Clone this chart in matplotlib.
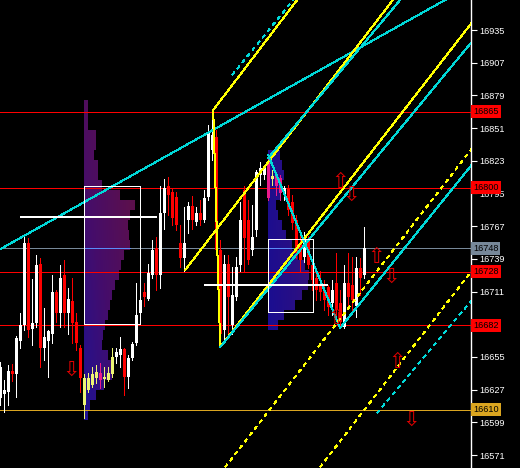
import numpy as np
import matplotlib
matplotlib.use("Agg")
import matplotlib.pyplot as plt

plt.rcParams['font.family'] = ['Liberation Sans', 'DejaVu Sans']

# ---------------- data ----------------
opens = [16620,16623,16625,16643,16640,16669,16682,16753,16679,16684,
         16735,16663,16669,16675,16711,16693,16725,16693,16703,16685,
         16663,16614,16627,16631,16637,16641,16636,16635,16640,16655,
         16657,16662,16638,16654,16667,16693,16711,16705,16725,16748,
         16725,16778,16801,16796,16792,16753,16740,16772,16784,16771,
         16778,16772,16792,16832,16843,16747,16678,16735,16682,16706,
         16734,16798,16772,16747,16764,16811,16811,16822,16807,16811,
         16808,16794,16800,16788,16772,16753,16741,16755,16734,16723,
         16717,16712,16715,16701,16718,16701,16681,16718,16717,16699,
         16731,16725]
highs = [16651,16635,16648,16649,16673,16693,16759,16757,16722,16742,
         16740,16697,16678,16725,16712,16734,16738,16714,16723,16693,
         16665,16640,16641,16646,16648,16650,16646,16646,16663,16663,
         16672,16663,16657,16668,16718,16718,16718,16735,16755,16758,
         16801,16807,16809,16800,16796,16768,16783,16788,16793,16783,
         16789,16798,16854,16866,16849,16755,16742,16742,16732,16741,
         16788,16801,16789,16785,16815,16822,16819,16826,16815,16813,
         16811,16801,16802,16794,16777,16759,16762,16759,16736,16729,
         16729,16721,16717,16721,16744,16712,16734,16744,16741,16741,
         16740,16766]
lows = [16614,16608,16614,16634,16621,16663,16678,16672,16665,16681,
        16646,16652,16638,16667,16685,16681,16681,16675,16667,16661,
        16625,16603,16625,16629,16633,16628,16629,16634,16638,16650,
        16646,16622,16628,16652,16665,16688,16699,16704,16723,16712,
        16714,16765,16777,16768,16764,16732,16729,16761,16765,16768,
        16768,16771,16789,16824,16742,16665,16669,16674,16675,16704,
        16729,16729,16735,16742,16759,16802,16807,16789,16802,16794,
        16789,16789,16777,16765,16740,16729,16736,16731,16712,16704,
        16704,16695,16691,16691,16689,16680,16680,16698,16695,16689,
        16708,16723]
closes = [16646,16627,16643,16640,16671,16682,16753,16678,16684,16734,
          16663,16672,16677,16711,16693,16723,16693,16705,16684,16667,
          16637,16637,16637,16640,16642,16635,16638,16641,16655,16659,
          16662,16638,16654,16666,16691,16704,16706,16727,16747,16725,
          16778,16800,16794,16774,16768,16740,16753,16784,16772,16778,
          16772,16791,16847,16845,16747,16675,16735,16706,16708,16732,
          16772,16757,16738,16758,16813,16817,16817,16791,16810,16801,
          16795,16800,16781,16770,16744,16738,16757,16734,16721,16712,
          16711,16704,16698,16712,16695,16685,16718,16706,16704,16731,
          16723,16748]

y_ticks = [16571, 16599, 16627, 16655, 16683, 16711, 16739, 16767,
           16795, 16823, 16851, 16879, 16907, 16935]
y_tick_labels = ['16571', '16599', '16627', '16655', '', '16711', '16739',
                 '16767', '16795', '16823', '16851', '16879', '16907', '16935']

hline_prices = [16865, 16800, 16748, 16728, 16682, 16610]
hline_kind = ['red', 'red', 'bid', 'red', 'red', 'gold']

# trend lines: anchor points (bar index, price)
tl_x1 = [0.0, 53.25, 53.25, 46.25, 55.0, 55.0, 67.0, 67.0, 85.0, 58.0, 56.25, 80.0, 94.25]
tl_p1 = [16747.4, 16866.5, 16866.5, 16729.5, 16663.5, 16663.5, 16825.4, 16828.0, 16679.8, 16896.5, 16560.7, 16560.7, 16607.0]
tl_x2 = [111.25, 74.25, 55.0, 98.2, 117.5, 117.5, 100.0, 85.0, 117.5, 73.25, 117.5, 117.5, 117.5]
tl_p2 = [16960.7, 16960.7, 16663.5, 16960.7, 16939.3, 16923.0, 16960.7, 16679.8, 16817.7, 16960.7, 16831.4, 16726.9, 16701.8]
tl_kind = ['cyan', 'yellow', 'yellow_seg', 'yellow', 'yellow', 'cyan', 'cyan',
           'cyan_seg', 'cyan', 'cyan_dot', 'yellow_dot', 'yellow_dot', 'cyan_dot']

# white level segments
wseg_x1 = [5.0, 51.0]
wseg_x2 = [39.25, 82.0]
wseg_price = [16775, 16717]

# value-area boxes
box_x1 = [21.0, 67.0]
box_x2 = [35.0, 78.25]
box_low = [16683.0, 16693.5]
box_high = [16801.4, 16756.0]

# market profiles (TPO counts per row, bottom to top)
prof1_start = 21.0
prof1_low, prof1_high = 16601.0, 16875.0
prof1_counts = [4, 6, 12, 20, 28, 28, 24, 18, 19, 21, 24, 26, 28, 31, 35, 37,
                40, 46, 45, 44, 46, 51, 36, 18, 14, 14, 10, 12, 12, 4, 4, 4]
prof2_start = 67.0
prof2_low, prof2_high = 16678.0, 16832.0
prof2_counts = [10, 16, 27, 34, 40, 41, 37, 30, 24, 18, 14, 10, 8, 12, 14, 16, 14, 12]

# signal arrows
arrow_bar = [17.7, 85.0, 87.75, 94.0, 97.75, 84.0, 99.25, 102.75]
arrow_price = [16644, 16805, 16794, 16741, 16724, 16688, 16651, 16601]
arrow_dir = ['down', 'up', 'down', 'up', 'down', 'up', 'up', 'down']

# ---------------- style ----------------
XMIN, XMAX = -0.1, 117.75
YMIN, YMAX = 16559.9, 16960.7
UNIT = 0.25  # bars per TPO unit
RED = '#ff0000'
BID = '#778899'
GOLD = '#daa520'
YEL = '#ffff00'
CYA = '#00d8d8'
LW = 0.72

fig = plt.figure(figsize=(5.2, 4.68), dpi=100, facecolor='black')
ax = fig.add_axes([0, 0, 471 / 520, 1])
ax.set_facecolor('black')


def lerp(a, b, t):
    return tuple(a[i] + (b[i] - a[i]) * t for i in range(3))


def prof_color(t, cols):
    t = min(max(t, 0.0), 1.0)
    if t < 0.5:
        return lerp(cols[0], cols[1], t / 0.5)
    return lerp(cols[1], cols[2], (t - 0.5) / 0.5)


def draw_profile(x0, plo, phi, counts, cols, kx, ky):
    n = len(counts)
    mw = max(counts)
    img = np.zeros((n, mw, 4))
    for r, w in enumerate(counts):
        for k in range(w):
            img[r, k, :3] = prof_color(kx * k / mw + ky * r / n, cols)
            img[r, k, 3] = 1.0
    ax.imshow(img, extent=(x0, x0 + mw * UNIT, plo, phi), origin='lower',
              aspect='auto', interpolation='nearest', zorder=1)


def prof_right(x0, plo, phi, counts, price):
    n = len(counts)
    r = int((price - plo) / (phi - plo) * n)
    if r < 0 or r >= n:
        return None
    return x0 + counts[r] * UNIT


cols1 = [(0.12, 0.07, 0.58), (0.27, 0.05, 0.42), (0.36, 0.06, 0.30)]
cols2 = [(0.10, 0.05, 0.57), (0.16, 0.06, 0.52), (0.26, 0.08, 0.44)]
draw_profile(prof1_start, prof1_low, prof1_high, prof1_counts, cols1, 0.55, 0.75)
draw_profile(prof2_start, prof2_low, prof2_high, prof2_counts, cols2, 0.7, 0.2)

profiles = [(prof1_start, prof1_low, prof1_high, prof1_counts),
            (prof2_start, prof2_low, prof2_high, prof2_counts)]

# horizontal levels
for p, kind in zip(hline_prices, hline_kind):
    c = {'red': RED, 'bid': BID, 'gold': GOLD}[kind]
    ax.axhline(p, color=c, lw=LW, zorder=2 if kind == 'bid' else 3, antialiased=False)
    if kind == 'bid':
        for (x0, plo, phi, cnt) in profiles:
            xr = prof_right(x0, plo, phi, cnt, p)
            if xr is not None:
                ax.plot([x0, xr], [p, p], color=(0.35, 0.55, 0.98), lw=LW,
                        zorder=2.5, antialiased=False)
    ax.text(1.0 + 2.0 / 471, p, f"{p}", transform=ax.get_yaxis_transform(),
            ha='left', va='center', fontsize=6.6, color='black', clip_on=False,
            zorder=20, bbox=dict(boxstyle='square,pad=0.22', fc=c, ec='none'))

# candles
for i, (o, h, l, c) in enumerate(zip(opens, highs, lows, closes)):
    bull = c >= o
    col = 'white' if bull else RED
    for (x0, plo, phi, cnt) in profiles:
        xr = prof_right(x0, plo, phi, cnt, (o + c) / 2)
        if xr is not None and x0 - 0.3 <= i <= xr:
            col = (0.93, 0.96, 0.45) if bull else (0.92, 0.10, 0.55)
    ax.vlines(i, l, h, color=col, lw=LW, zorder=4, antialiased=False)
    ax.bar(i, max(abs(c - o), 0.9), bottom=min(o, c), width=0.78, color=col,
           lw=0, zorder=4.5, antialiased=False)

# trend lines
for x1, p1, x2, p2, kind in zip(tl_x1, tl_p1, tl_x2, tl_p2, tl_kind):
    col = YEL if kind.startswith('yellow') else CYA
    ls = (0, (3, 5)) if kind.endswith('dot') else '-'
    if kind.endswith('seg'):
        xs, ps = [x1, x2], [p1, p2]
    else:
        slope = (p2 - p1) / (x2 - x1)
        xs, ps = [x1, XMAX + 1], [p1, p1 + slope * (XMAX + 1 - x1)]
    ax.plot(xs, ps, color=col, lw=LW, ls=ls, zorder=5, antialiased=False)

# white level segments
for x1, x2, p in zip(wseg_x1, wseg_x2, wseg_price):
    ax.plot([x1, x2], [p, p], color='white', lw=1.44, zorder=6,
            solid_capstyle='butt', antialiased=False)

# boxes
for x1, x2, lo, hi in zip(box_x1, box_x2, box_low, box_high):
    ax.add_patch(plt.Rectangle((x1, lo), x2 - x1, hi - lo, fill=False,
                               ec='white', lw=LW, zorder=6, antialiased=False))

# arrows
for b, p, d in zip(arrow_bar, arrow_price, arrow_dir):
    ax.text(b, p, '\u21e7' if d == 'up' else '\u21e9', color='#e00000',
            fontsize=15, ha='center', va='center', family=['DejaVu Sans'],
            zorder=7)

ax.set_xlim(XMIN, XMAX)
ax.set_ylim(YMIN, YMAX)
ax.set_xticks([])
ax.yaxis.tick_right()
ax.set_yticks(y_ticks)
ax.set_yticklabels(y_tick_labels)
ax.tick_params(axis='y', direction='out', length=4, width=0.8, colors='white',
               labelsize=6.6, pad=2)
for s in ['left', 'top', 'bottom']:
    ax.spines[s].set_visible(False)
ax.spines['right'].set_color('white')
ax.spines['right'].set_linewidth(1.0)

fig.savefig('out.png', dpi=100, facecolor='black')
